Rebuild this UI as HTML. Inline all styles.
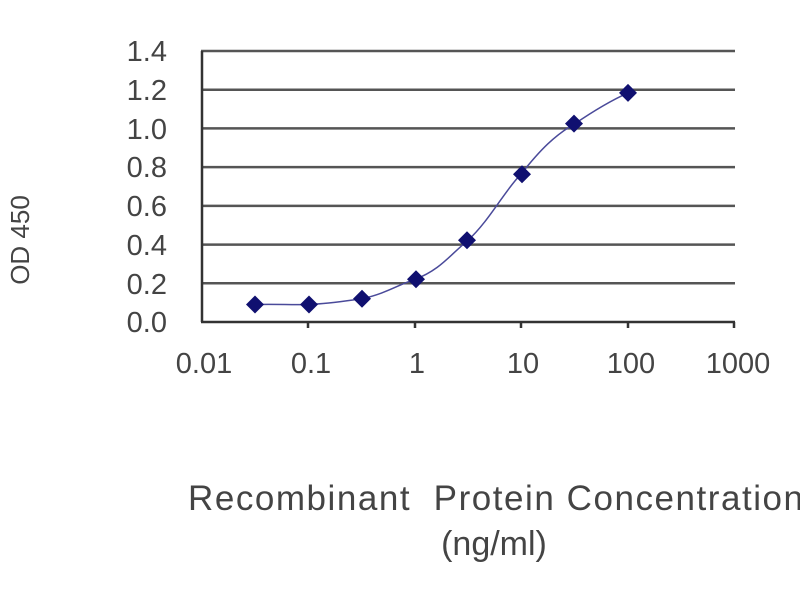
<!DOCTYPE html><html><head><style>body{margin:0;background:#fff}</style></head><body>
<svg width="800" height="600" xmlns="http://www.w3.org/2000/svg" font-family="Liberation Sans, sans-serif">
<rect width="800" height="600" fill="#fff"/>
<g stroke="#555" stroke-width="2.5">
<line x1="201" y1="51" x2="735" y2="51"/><line x1="201" y1="89.7" x2="735" y2="89.7"/>
<line x1="201" y1="128.4" x2="735" y2="128.4"/><line x1="201" y1="167.1" x2="735" y2="167.1"/>
<line x1="201" y1="205.9" x2="735" y2="205.9"/><line x1="201" y1="244.6" x2="735" y2="244.6"/>
<line x1="201" y1="283.3" x2="735" y2="283.3"/></g>
<g stroke="#333" stroke-width="2.5"><line x1="201" y1="322" x2="735" y2="322"/><line x1="202" y1="51" x2="202" y2="322"/>
<line x1="308" y1="322" x2="308" y2="328"/><line x1="415" y1="322" x2="415" y2="328"/><line x1="521" y1="322" x2="521" y2="328"/><line x1="628" y1="322" x2="628" y2="328"/><line x1="734" y1="322" x2="734" y2="328"/></g>
<g font-size="29" fill="#444" text-anchor="end">
<text x="167" y="61">1.4</text><text x="167" y="100">1.2</text><text x="167" y="139">1.0</text><text x="167" y="177">0.8</text><text x="167" y="216">0.6</text><text x="167" y="255">0.4</text><text x="167" y="294">0.2</text><text x="167" y="332">0.0</text></g>
<g font-size="29" fill="#444" text-anchor="middle">
<text x="204" y="373">0.01</text><text x="311" y="373">0.1</text><text x="417" y="373">1</text><text x="523" y="373">10</text><text x="631" y="373">100</text><text x="738" y="373">1000</text>
<text x="188" y="510" font-size="35" text-anchor="start" textLength="615">Recombinant&#160; Protein Concentration</text>
<text x="494" y="555" font-size="34">(ng/ml)</text></g>
<text transform="translate(29,240) rotate(-90)" font-size="26" fill="#444" text-anchor="middle">OD 450</text>
<path d="M255,304.5 C280,304 290,305 308,304.5 C330,303.5 345,301 362,298.7 C385,294 400,284 415,279.3 C440,270 450,255 468,240.3 C490,220 505,190 521,174.2 C540,150 555,135 575,123.6 C595,110 612,100 628,92.9" fill="none" stroke="#4a4a9a" stroke-width="1.5"/>
<g fill="#101070">
<path d="M255,295.5l9,9l-9,9l-9,-9z"/><path d="M309,295.5l9,9l-9,9l-9,-9z"/><path d="M362,289.7l9,9l-9,9l-9,-9z"/><path d="M416,270.3l9,9l-9,9l-9,-9z"/><path d="M467,231.3l9,9l-9,9l-9,-9z"/><path d="M522,165.2l9,9l-9,9l-9,-9z"/><path d="M574,114.6l9,9l-9,9l-9,-9z"/><path d="M628,83.9l9,9l-9,9l-9,-9z"/></g>
</svg></body></html>
